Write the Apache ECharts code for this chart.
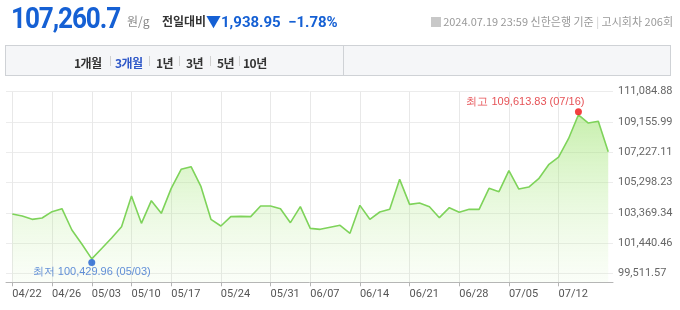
<!DOCTYPE html>
<html><head><meta charset="utf-8">
<script src="https://cdn.jsdelivr.net/npm/echarts@6/dist/echarts.min.js"></script>
<style>
html,body{margin:0;padding:0;background:#fff;}
#wrap{position:relative;width:680px;height:310px;overflow:hidden;font-family:Roboto,"Noto Sans CJK KR",sans-serif;}
#chart{position:absolute;left:0;top:0;width:680px;height:310px;}
.a{position:absolute;white-space:nowrap;line-height:1;}
#tabs{position:absolute;left:5px;top:45px;width:666px;height:31px;background:#f5f6f8;border:1px solid #cfd2d6;box-sizing:border-box;}
#tabs .div{position:absolute;left:337px;top:0;width:1px;height:29px;background:#cfd2d6;}
.t{position:absolute;top:8px;font-size:12px;font-weight:bold;color:#333;font-family:"Noto Sans CJK KR",sans-serif;letter-spacing:-0.5px;}
.s{position:absolute;top:10px;width:1px;height:10px;background:#d0d0d0;}
</style></head>
<body><div id="wrap">
<div id="chart"></div>
<span class="a" style="left:11px;top:4px;font-size:29px;font-weight:bold;color:#1560d4;letter-spacing:-1.2px;transform:scaleX(0.9);transform-origin:0 0;">107,260.7</span>
<span class="a" style="left:127px;top:15px;font-size:12px;color:#888;font-family:'Noto Sans CJK KR';">원/g</span>
<span class="a" style="left:162px;top:15px;font-size:12px;font-weight:bold;color:#333;font-family:'Noto Sans CJK KR';">전일대비</span>
<span class="a" style="left:206px;top:15px;font-size:15px;font-weight:bold;color:#1560d4;">▼1,938.95&nbsp;&nbsp;−1.78%</span>
<span class="a" style="right:7px;top:16px;font-size:11px;color:#999;font-family:'Noto Sans CJK KR';"><span style="display:inline-block;width:10px;height:10px;background:#c8c8c8;vertical-align:-1px;margin-right:2px;"></span>2024.07.19 23:59 신한은행 기준 <span style="color:#ccc">|</span> 고시회차 206회</span>
<div id="tabs"><div class="div"></div>
<span class="t" style="left:68px;">1개월</span><span class="s" style="left:104px"></span>
<span class="t" style="left:109px;color:#2f58c8;">3개월</span><span class="s" style="left:143px"></span>
<span class="t" style="left:150px;">1년</span><span class="s" style="left:173px"></span>
<span class="t" style="left:180px;">3년</span><span class="s" style="left:204px"></span>
<span class="t" style="left:211px;">5년</span><span class="s" style="left:233px"></span>
<span class="t" style="left:237px;">10년</span>
</div>
</div>
<script>
const dates = ['04/22','04/23','04/24','04/25','04/26','04/29','04/30','05/02','05/03',
'05/07','05/08','05/09','05/10','05/13','05/14','05/16','05/17',
'05/20','05/21','05/22','05/23','05/24','05/27','05/28','05/29','05/30','05/31',
'06/03','06/04','06/05','06/07','06/10','06/11','06/12','06/13','06/14',
'06/17','06/18','06/19','06/20','06/21','06/24','06/25','06/26','06/27','06/28',
'07/01','07/02','07/03','07/04','07/05','07/08','07/09','07/10','07/11','07/12',
'07/15','07/16','07/17','07/18','07/19'];
const prices = [103290,103163,102950,103035,103438,103629,102270,101378,100429.96,
101092,101760,102483,104437,102695,104140,103332,104925,
106136,106306,105032,102950,102525,103120,103141,103120,103800,103800,
103630,102738,103757,102376,102313,102440,102568,102058,103842,
102950,103417,103587,105499,103906,103991,103757,103056,103693,103396,
103587,103587,104925,104713,106051,104883,105010,105541,106433,106922,
108090,109613.83,109089,109199.65,107260.7];
const xTickDates = ['04/22','04/26','05/03','05/10','05/17','05/24','05/31','06/07','06/14','06/21','06/28','07/05','07/12'];
const yTickValues = [99511.57,101440.46,103369.34,105298.23,107227.11,109155.99,111084.88];

const fmt = v => v.toLocaleString('en-US',{minimumFractionDigits:2,maximumFractionDigits:2});
const xTickIdx = xTickDates.map(d => dates.indexOf(d));
const seriesData = prices.map((p,i)=>[i,p]);
let minI=0,maxI=0;
prices.forEach((p,i)=>{ if(p<prices[minI]) minI=i; if(p>prices[maxI]) maxI=i; });

const chart = echarts.init(document.getElementById('chart'),null,{renderer:'canvas'});
chart.setOption({
  animation:false,
  grid:{left:6,right:67,top:91.7,bottom:27.7,containLabel:false},
  xAxis:{type:'value',min:-0.634,max:60.48,
    axisLine:{show:true,lineStyle:{color:'#b5b5b5'}},
    axisTick:{show:true,length:4,lineStyle:{color:'#b5b5b5'},customValues:xTickIdx},
    axisLabel:{customValues:xTickIdx,formatter:v=>dates[Math.round(v)],color:'#555',fontSize:11,margin:6,align:'left',fontFamily:'Roboto'},
    splitLine:{show:true,lineStyle:{color:'#e8e8e8'}}},
  yAxis:{type:'value',position:'right',min:98937,max:111084.88,
    axisLine:{show:false},
    axisTick:{show:false,customValues:yTickValues},
    axisLabel:{customValues:yTickValues,formatter:v=>fmt(v),color:'#666',fontSize:11,margin:5,fontFamily:'Roboto'},
    splitLine:{show:true,lineStyle:{color:'#ececec'}}},
  series:[{type:'line',data:seriesData,symbol:'none',
    lineStyle:{color:'#7ed35a',width:1.6},
    areaStyle:{color:new echarts.graphic.LinearGradient(0,0,0,1,[
      {offset:0,color:'rgba(150,225,100,0.75)'},{offset:0.5,color:'rgba(170,232,130,0.4)'},{offset:1,color:'rgba(200,240,170,0.12)'}])}
  },{type:'scatter',data:[
      {value:[maxI,prices[maxI]],symbolOffset:[0,-3],itemStyle:{color:'#f01010'},
       label:{show:true,position:'top',distance:1,offset:[-53,0],color:'#e0262b',fontSize:11,
         formatter:'최고 '+fmt(prices[maxI])+' ('+dates[maxI]+')'}},
      {value:[minI,prices[minI]],symbolOffset:[0,3.5],itemStyle:{color:'#1a5fd0'},
       label:{show:true,position:'bottom',distance:1,color:'#3b73cf',fontSize:11,
         formatter:'최저 '+fmt(prices[minI])+' ('+dates[minI]+')'}}],
    symbol:'circle',symbolSize:7,z:5}]
});
</script>
</body></html>
